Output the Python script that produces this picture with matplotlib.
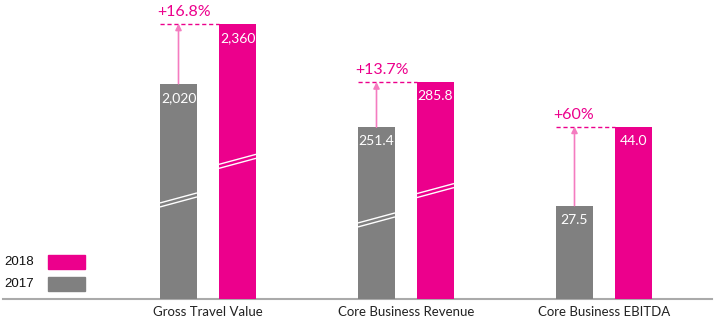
import numpy as np
import matplotlib.pyplot as plt

# data
categories = ["Gross Travel Value", "Core Business Revenue", "Core Business EBITDA"]
v2017 = [2020, 251.4, 27.5]
v2018 = [2360, 285.8, 44.0]
lbl2017 = ["2,020", "251.4", "27.5"]
lbl2018 = ["2,360", "285.8", "44.0"]
growth = ["+16.8%", "+13.7%", "+60%"]

# broken-axis display: each group has its own floor and scale (px per unit)
axis_floor = [800, 120, 8]
px_per_unit = [0.1765, 1.308, 4.79]
has_break = [True, True, False]

MAGENTA = "#EC008C"
GREY = "#808080"
ARROW = "#F47CC0"

W, H = 720, 326
fig = plt.figure(figsize=(W / 100, H / 100), dpi=100)
base_px = 27  # baseline distance from bottom
ax = fig.add_axes([0, base_px / H, 1, 1 - base_px / H])
spacing = 198.0
ax.set_xlim(-208 / spacing, (W - 208) / spacing)
ax.set_ylim(0, H - base_px)
ax.axis("off")

bw = 37 / spacing
off = 29.5 / spacing
x = np.arange(len(categories))

h17 = [(v - f) * s for v, f, s in zip(v2017, axis_floor, px_per_unit)]
h18 = [(v - f) * s for v, f, s in zip(v2018, axis_floor, px_per_unit)]

ax.bar(x - off, h17, bw, color=GREY, zorder=2)
ax.bar(x + off, h18, bw, color=MAGENTA, zorder=2)

tf = "Lato"
for i in range(len(categories)):
    xg, xm = x[i] - off, x[i] + off
    ax.text(xg, h17[i] - 14, lbl2017[i], color="white", ha="center", va="center",
            fontsize=10, family=tf, zorder=4)
    ax.text(xm, h18[i] - 14, lbl2018[i], color="white", ha="center", va="center",
            fontsize=10, family=tf, zorder=4)
    # dashed reference line and arrow
    ax.plot([xg - bw / 2, xm - bw / 2], [h18[i], h18[i]], color=MAGENTA, lw=1,
            ls=(0, (3, 2)), zorder=3)
    ax.annotate("", xy=(xg, h18[i]), xytext=(xg, h17[i]),
                arrowprops=dict(arrowstyle="-|>", color=ARROW, lw=1.2,
                                mutation_scale=9, shrinkA=0, shrinkB=0), zorder=3)
    ax.text(xg - bw / 2 - 3 / spacing, h18[i] + 5, growth[i], color=MAGENTA,
            ha="left", va="bottom", fontsize=11.5, family=tf)
    ax.text(x[i], -7, categories[i], ha="center", va="top", fontsize=9.5,
            family=tf, color="#222222", clip_on=False)
    # break marks
    if has_break[i]:
        for xc, hh, frac in [(xg, h17[i], 0.46), (xm, h18[i], 0.5)]:
            yc = hh * frac
            for d in (-2, 2):
                ax.plot([xc - bw / 2, xc + bw / 2], [yc - 5 + d, yc + 5 + d],
                        color="white", lw=1, zorder=3, solid_capstyle="butt")

# baseline
ax.plot([3 / spacing - 208 / spacing, 712 / spacing - 208 / spacing], [0, 0],
        color="#aaaaaa", lw=1.5, clip_on=False, zorder=1)

# legend
for label, col, yc in [("2018", MAGENTA, 37), ("2017", GREY, 15)]:
    ax.add_patch(plt.Rectangle(((48 - 208) / spacing, yc - 7), 37 / spacing, 14,
                               color=col))
    ax.text((4 - 208) / spacing, yc, label, ha="left", va="center",
            fontsize=9.5, family="Liberation Sans", color="#111111")

fig.savefig("out.png", dpi=100)
